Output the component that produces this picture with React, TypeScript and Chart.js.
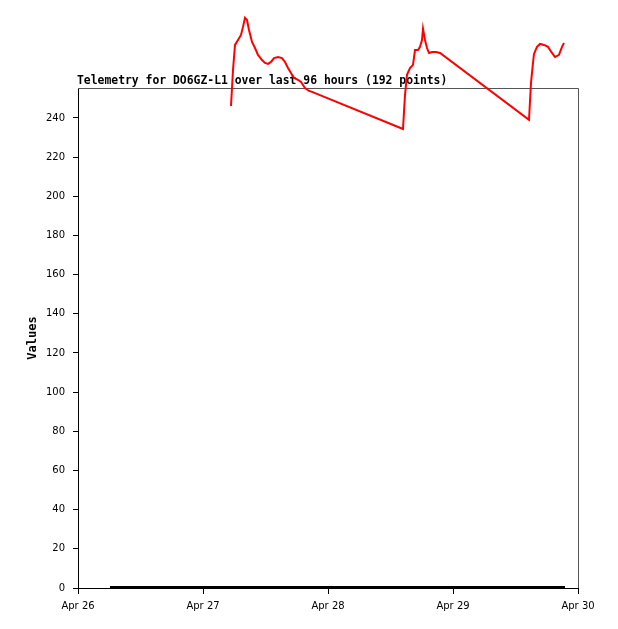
import React, { useEffect, useRef } from "react";
import { Chart, registerables } from "chart.js";

Chart.register(...registerables);

const titleText = "Telemetry for DO6GZ-L1 over last 96 hours (192 points)";
const yAxisTitle = "Values";
const xTickLabels = ["Apr 26", "Apr 27", "Apr 28", "Apr 29", "Apr 30"];
const yTicks = [0, 20, 40, 60, 80, 100, 120, 140, 160, 180, 200, 220, 240];

// time in days since Apr 26 00:00
const redTimes = [
  1.224, 1.24, 1.256, 1.28, 1.304, 1.32, 1.336, 1.352, 1.368, 1.392, 1.416, 1.44,
  1.472, 1.496, 1.52, 1.544, 1.568, 1.6, 1.632, 1.656, 1.68, 1.704, 1.728, 1.76,
  1.784, 1.816, 1.848, 1.872,
  2.6, 2.616, 2.632, 2.656, 2.68, 2.696, 2.72, 2.736, 2.752, 2.76, 2.776, 2.792,
  2.808, 2.832, 2.864, 2.896,
  3.608, 3.624, 3.64, 3.648, 3.672, 3.696, 3.728, 3.76, 3.792, 3.816, 3.848, 3.872, 3.888,
];
const redValues = [
  246.1, 264.5, 277.3, 279.8, 282.4, 286.5, 291.1, 290.0, 284.9, 278.8, 275.7, 272.2,
  269.6, 268.1, 267.6, 268.6, 270.6, 271.1, 270.6, 268.6, 265.5, 263.0, 260.4, 259.4,
  258.4, 255.3, 253.8, 253.3,
  234.4, 251.7, 262.0, 265.5, 267.1, 274.7, 274.7, 276.3, 279.8, 285.5, 279.8, 275.7,
  273.2, 273.7, 273.7, 273.2,
  239.0, 257.9, 268.1, 272.7, 276.3, 277.8, 277.3, 276.3, 273.2, 271.1, 272.2, 276.3, 278.3,
];

const blackTimes = [0.256, 1.0, 2.0, 3.0, 3.896];
const blackValues = [0.5, 0.5, 0.5, 0.5, 0.5];

export default function App() {
  const ref = useRef<HTMLCanvasElement>(null);
  useEffect(() => {
    document.body.style.margin = "0";
    const canvas = ref.current!;
    const framePlugin = {
      id: "frame",
      beforeDatasetsDraw(chart: any) {
        const { ctx, chartArea } = chart;
        const { left, right, top, bottom } = chartArea;
        ctx.save();
        ctx.strokeStyle = "#555555";
        ctx.lineWidth = 1;
        ctx.beginPath();
        ctx.moveTo(left, top + 0.5);
        ctx.lineTo(right + 0.5, top + 0.5);
        ctx.lineTo(right + 0.5, bottom);
        ctx.stroke();
        ctx.fillStyle = "#000";
        ctx.font = "bold 11.4px 'DejaVu Sans Mono'";
        ctx.textAlign = "left";
        ctx.textBaseline = "alphabetic";
        ctx.fillText(titleText, left - 1, top - 4);
        ctx.restore();
      },
    };
    const chart = new Chart(canvas, {
      type: "line",
      data: {
        datasets: [
          {
            data: blackTimes.map((t, i) => ({ x: t, y: blackValues[i] })),
            borderColor: "#000000",
            borderWidth: 2,
            pointRadius: 0,
            tension: 0,
            clip: false as any,
          },
          {
            data: redTimes.map((t, i) => ({ x: t, y: redValues[i] })),
            borderColor: "#ff0000",
            borderWidth: 2,
            pointRadius: 0,
            tension: 0,
            clip: false as any,
          },
        ],
      },
      options: {
        animation: false,
        responsive: false,
        layout: { padding: { left: 26, right: 40, top: 88, bottom: 0 } },
        plugins: { legend: { display: false }, tooltip: { enabled: false }, title: { display: false } },
        scales: {
          x: {
            type: "linear",
            min: 0,
            max: 4,
            afterBuildTicks(scale: any) {
              scale.ticks = xTickLabels.map((_, i) => ({ value: i }));
            },
            afterFit(scale: any) {
              scale.height = 41;
            },
            ticks: {
              callback: (v: any) => xTickLabels[Math.round(Number(v))] ?? "",
              color: "#000",
              font: { family: "DejaVu Sans", size: 10 },
              padding: 6,
              maxRotation: 0,
              autoSkip: false,
            },
            grid: { drawOnChartArea: false, tickLength: 6, color: "#000" },
            border: { color: "#000", width: 1 },
          },
          y: {
            type: "linear",
            min: 0,
            max: 255.3,
            afterBuildTicks(scale: any) {
              scale.ticks = yTicks.map((v) => ({ value: v }));
            },
            afterFit(scale: any) {
              scale.width = 52;
            },
            ticks: {
              color: "#000",
              font: { family: "DejaVu Sans", size: 10 },
              padding: 8,
              autoSkip: false,
            },
            title: {
              display: true,
              text: yAxisTitle,
              color: "#000",
              font: { family: "DejaVu Sans Mono", size: 12, weight: "bold" },
              padding: 0,
            },
            grid: { drawOnChartArea: false, tickLength: 5, color: "#000" },
            border: { color: "#000", width: 1 },
          },
        },
      },
      plugins: [framePlugin],
    } as any);
    return () => chart.destroy();
  }, []);
  return (
    <div style={{ width: 618, height: 629, background: "#fff" }}>
      <canvas ref={ref} width={618} height={629} style={{ display: "block" }} />
    </div>
  );
}
